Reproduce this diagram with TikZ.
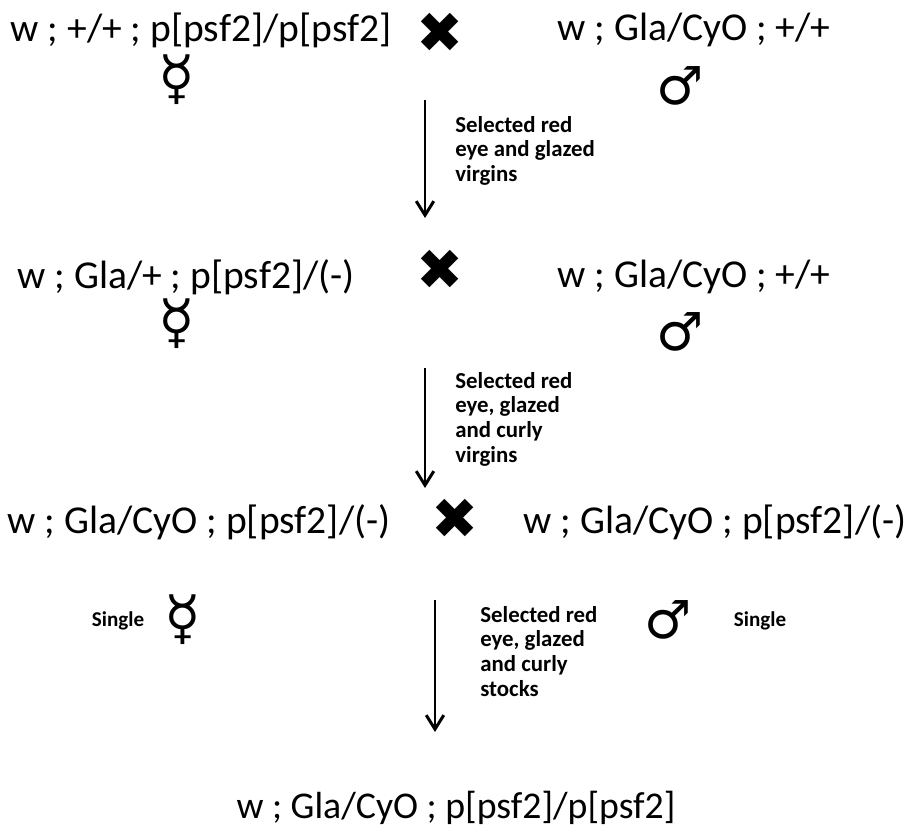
\documentclass[tikz,border=0pt]{standalone}
\usepackage{fontspec}
\setmainfont{Carlito}
\newfontfamily\symfont{DejaVu Sans}
\usetikzlibrary{positioning,arrows.meta}

\begin{document}
\begin{tikzpicture}[x=0.02cm,y=-0.02cm,
    geno/.style={font=\fontsize{22.5}{26}\selectfont, inner sep=0pt},
    cross/.style={font=\symfont\fontsize{32}{34}\selectfont, inner sep=0pt},
    fem/.style={font=\symfont\fontsize{34}{36}\selectfont, inner sep=0pt},
    mal/.style={font=\symfont\fontsize{30}{32}\selectfont, inner sep=0pt},
    note/.style={font=\bfseries\fontsize{13}{14}\selectfont, align=left, anchor=north west, inner sep=0pt},
    single/.style={font=\bfseries\fontsize{12}{14}\selectfont, inner sep=0pt},
    gen/.style={-{Straight Barb[length=8pt,width=10pt]}, line width=1.7pt}]
\useasboundingbox (0,0) rectangle (913,835);

% first cross
\node (p1f) at (201,30) [geno] {w ; +/+ ; p[psf2]/p[psf2]};
\node (x1) at (440,33) [cross] {✖};
\node (p1m) at (694,30) [geno] {w ; Gla/CyO ; +/+};
\node (f1) at (177,80) [fem] {☿};
\node (m1) at (680,86) [mal] {♂};

\coordinate (a1s) at (425,100);
\coordinate (a1e) at (425,218);
\draw[gen] (a1s) -- (a1e);
\node (n1) at (455,116) [note] {Selected red\\eye and glazed\\virgins};

% second cross
\node (p2f) at (186,277) [geno] {w ; Gla/+ ; p[psf2]/(-)};
\node (x2) at (440,270) [cross] {✖};
\node (p2m) at (694,277) [geno] {w ; Gla/CyO ; +/+};
\node (f2) at (177,324) [fem] {☿};
\node (m2) at (680,332) [mal] {♂};

\coordinate (a2s) at (425,368);
\coordinate (a2e) at (425,488);
\draw[gen] (a2s) -- (a2e);
\node (n2) at (455,372) [note] {Selected red\\eye, glazed\\and curly\\virgins};

% third cross
\node (p3f) at (199,522) [geno] {w ; Gla/CyO ; p[psf2]/(-)};
\node (x3) at (455,519) [cross] {✖};
\node (p3m) at (715,522) [geno] {w ; Gla/CyO ; p[psf2]/(-)};
\node (f3) at (183,620) [fem] {☿};
\node (s3f) at (118,621) [single] {Single};
\node (m3) at (668,620) [mal] {♂};
\node (s3m) at (760,621) [single] {Single};

\coordinate (a3s) at (435,600);
\coordinate (a3e) at (435,732);
\draw[gen] (a3s) -- (a3e);
\node (n3) at (480,606) [note] {Selected red\\eye, glazed\\and curly\\stocks};

% resulting stock
\node (st) at (456,808) [geno, font=\fontsize{21.5}{25}\selectfont] {w ; Gla/CyO ; p[psf2]/p[psf2]};
\end{tikzpicture}
\end{document}
